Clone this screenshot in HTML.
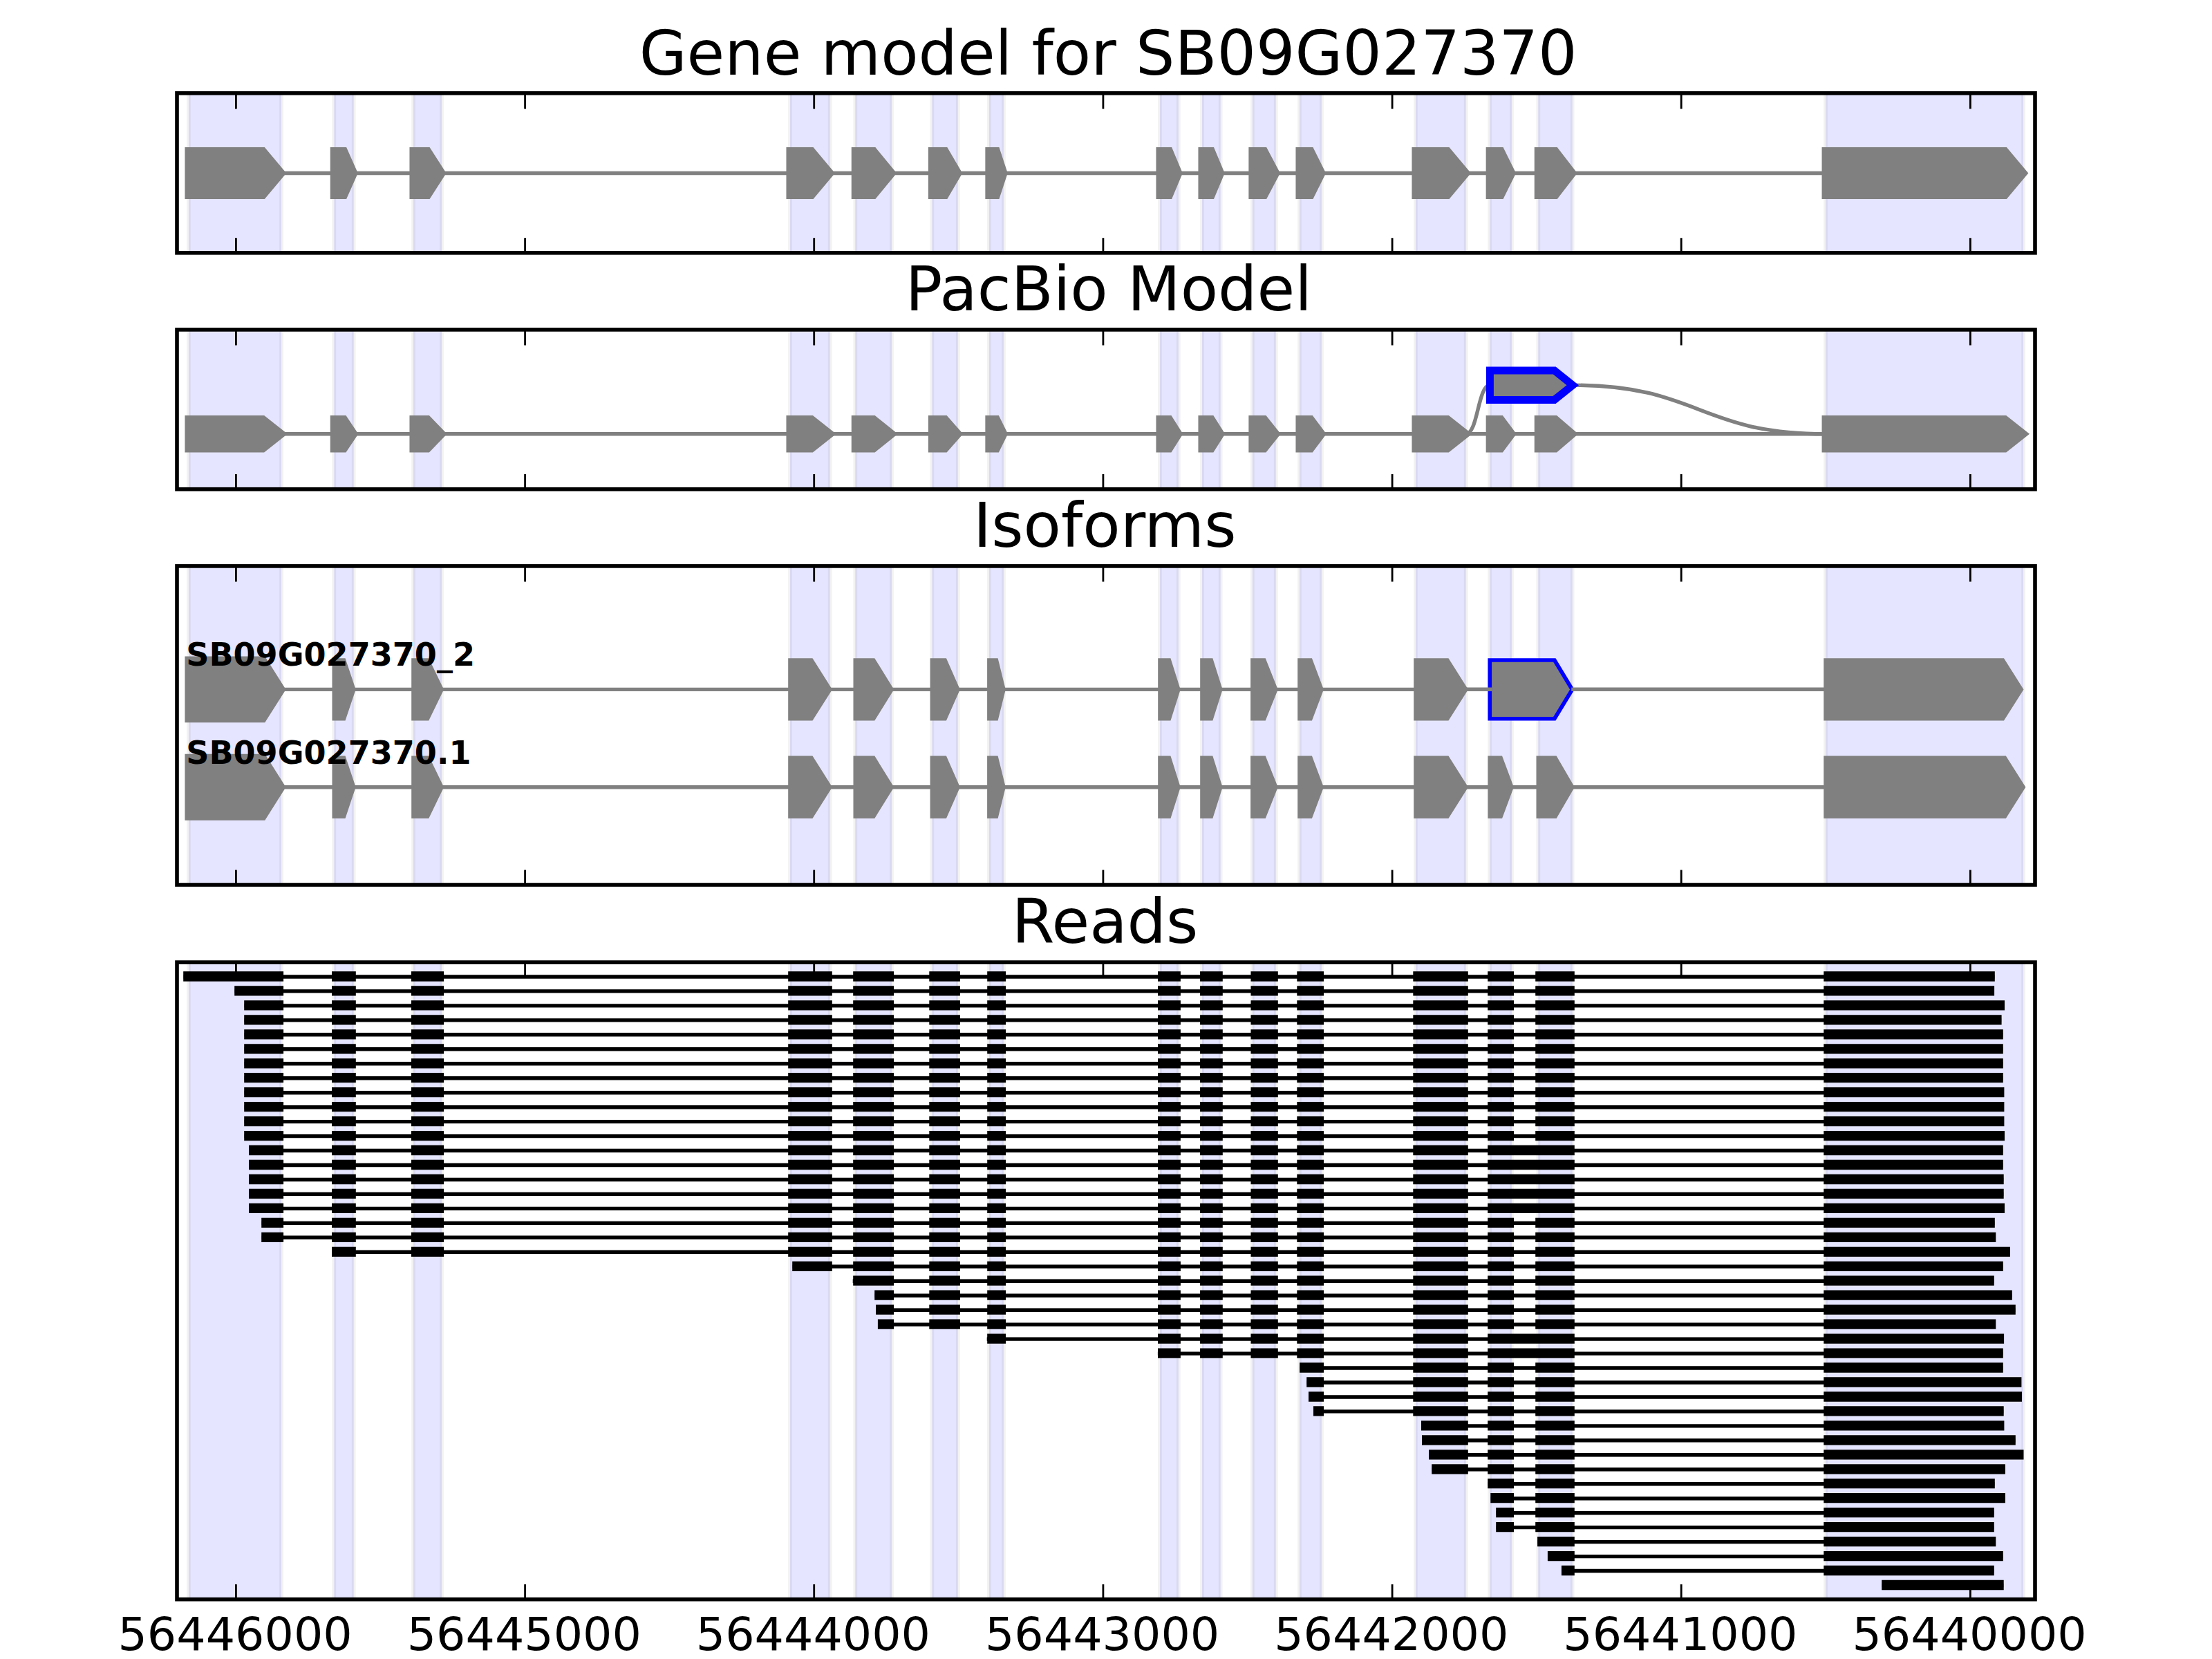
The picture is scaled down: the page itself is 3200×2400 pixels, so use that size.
<!DOCTYPE html>
<html lang="en"><head><meta charset="utf-8"><title>Gene model for SB09G027370</title>
<style>html,body{margin:0;padding:0;background:#fff}svg{display:block}</style></head>
<body>
<svg width="3200" height="2400" viewBox="0 0 3200 2400">
<rect width="3200" height="2400" fill="#fff"/>
<path d="M273 134.8H407V365.8H273ZM483.3 134.8H511.7V365.8H483.3ZM598 134.8H639V365.8H598ZM1143 134.8H1200.7V365.8H1143ZM1237.3 134.8H1290V365.8H1237.3ZM1348.4 134.8H1385.8V365.8H1348.4ZM1430.9 134.8H1451.9V365.8H1430.9ZM1678 134.8H1704.8V365.8H1678ZM1739 134.8H1765.7V365.8H1739ZM1811.9 134.8H1845.7V365.8H1811.9ZM1880 134.8H1911.9V365.8H1880ZM2048 134.8H2120.7V365.8H2048ZM2155.2 134.8H2186.9V365.8H2155.2ZM2225.3 134.8H2274.7V365.8H2225.3ZM2641.1 134.8H2927.1V365.8H2641.1Z" fill="#e5e5ff"/>
<path d="M270.1 134.8H275.9V365.8H270.1ZM404.1 134.8H409.9V365.8H404.1ZM480.4 134.8H486.2V365.8H480.4ZM508.8 134.8H514.6V365.8H508.8ZM595.1 134.8H600.9V365.8H595.1ZM636.1 134.8H641.9V365.8H636.1ZM1140.1 134.8H1145.9V365.8H1140.1ZM1197.8 134.8H1203.6V365.8H1197.8ZM1234.4 134.8H1240.2V365.8H1234.4ZM1287.1 134.8H1292.9V365.8H1287.1ZM1345.5 134.8H1351.3V365.8H1345.5ZM1382.9 134.8H1388.7V365.8H1382.9ZM1428 134.8H1433.8V365.8H1428ZM1449 134.8H1454.8V365.8H1449ZM1675.1 134.8H1680.9V365.8H1675.1ZM1701.9 134.8H1707.7V365.8H1701.9ZM1736.1 134.8H1741.9V365.8H1736.1ZM1762.8 134.8H1768.6V365.8H1762.8ZM1809 134.8H1814.8V365.8H1809ZM1842.8 134.8H1848.6V365.8H1842.8ZM1877.1 134.8H1882.9V365.8H1877.1ZM1909 134.8H1914.8V365.8H1909ZM2045.1 134.8H2050.9V365.8H2045.1ZM2117.8 134.8H2123.6V365.8H2117.8ZM2152.3 134.8H2158.1V365.8H2152.3ZM2184 134.8H2189.8V365.8H2184ZM2222.4 134.8H2228.2V365.8H2222.4ZM2271.8 134.8H2277.6V365.8H2271.8ZM2638.2 134.8H2644V365.8H2638.2ZM2924.2 134.8H2930V365.8H2924.2Z" fill="#000" fill-opacity="0.052"/>
<path d="M273 476.9H407V707.7H273ZM483.3 476.9H511.7V707.7H483.3ZM598 476.9H639V707.7H598ZM1143 476.9H1200.7V707.7H1143ZM1237.3 476.9H1290V707.7H1237.3ZM1348.4 476.9H1385.8V707.7H1348.4ZM1430.9 476.9H1451.9V707.7H1430.9ZM1678 476.9H1704.8V707.7H1678ZM1739 476.9H1765.7V707.7H1739ZM1811.9 476.9H1845.7V707.7H1811.9ZM1880 476.9H1911.9V707.7H1880ZM2048 476.9H2120.7V707.7H2048ZM2155.2 476.9H2186.9V707.7H2155.2ZM2225.3 476.9H2274.7V707.7H2225.3ZM2641.1 476.9H2927.1V707.7H2641.1Z" fill="#e5e5ff"/>
<path d="M270.1 476.9H275.9V707.7H270.1ZM404.1 476.9H409.9V707.7H404.1ZM480.4 476.9H486.2V707.7H480.4ZM508.8 476.9H514.6V707.7H508.8ZM595.1 476.9H600.9V707.7H595.1ZM636.1 476.9H641.9V707.7H636.1ZM1140.1 476.9H1145.9V707.7H1140.1ZM1197.8 476.9H1203.6V707.7H1197.8ZM1234.4 476.9H1240.2V707.7H1234.4ZM1287.1 476.9H1292.9V707.7H1287.1ZM1345.5 476.9H1351.3V707.7H1345.5ZM1382.9 476.9H1388.7V707.7H1382.9ZM1428 476.9H1433.8V707.7H1428ZM1449 476.9H1454.8V707.7H1449ZM1675.1 476.9H1680.9V707.7H1675.1ZM1701.9 476.9H1707.7V707.7H1701.9ZM1736.1 476.9H1741.9V707.7H1736.1ZM1762.8 476.9H1768.6V707.7H1762.8ZM1809 476.9H1814.8V707.7H1809ZM1842.8 476.9H1848.6V707.7H1842.8ZM1877.1 476.9H1882.9V707.7H1877.1ZM1909 476.9H1914.8V707.7H1909ZM2045.1 476.9H2050.9V707.7H2045.1ZM2117.8 476.9H2123.6V707.7H2117.8ZM2152.3 476.9H2158.1V707.7H2152.3ZM2184 476.9H2189.8V707.7H2184ZM2222.4 476.9H2228.2V707.7H2222.4ZM2271.8 476.9H2277.6V707.7H2271.8ZM2638.2 476.9H2644V707.7H2638.2ZM2924.2 476.9H2930V707.7H2924.2Z" fill="#000" fill-opacity="0.052"/>
<path d="M273 818.9H407V1280H273ZM483.3 818.9H511.7V1280H483.3ZM598 818.9H639V1280H598ZM1143 818.9H1200.7V1280H1143ZM1237.3 818.9H1290V1280H1237.3ZM1348.4 818.9H1385.8V1280H1348.4ZM1430.9 818.9H1451.9V1280H1430.9ZM1678 818.9H1704.8V1280H1678ZM1739 818.9H1765.7V1280H1739ZM1811.9 818.9H1845.7V1280H1811.9ZM1880 818.9H1911.9V1280H1880ZM2048 818.9H2120.7V1280H2048ZM2155.2 818.9H2186.9V1280H2155.2ZM2225.3 818.9H2274.7V1280H2225.3ZM2641.1 818.9H2927.1V1280H2641.1Z" fill="#e5e5ff"/>
<path d="M270.1 818.9H275.9V1280H270.1ZM404.1 818.9H409.9V1280H404.1ZM480.4 818.9H486.2V1280H480.4ZM508.8 818.9H514.6V1280H508.8ZM595.1 818.9H600.9V1280H595.1ZM636.1 818.9H641.9V1280H636.1ZM1140.1 818.9H1145.9V1280H1140.1ZM1197.8 818.9H1203.6V1280H1197.8ZM1234.4 818.9H1240.2V1280H1234.4ZM1287.1 818.9H1292.9V1280H1287.1ZM1345.5 818.9H1351.3V1280H1345.5ZM1382.9 818.9H1388.7V1280H1382.9ZM1428 818.9H1433.8V1280H1428ZM1449 818.9H1454.8V1280H1449ZM1675.1 818.9H1680.9V1280H1675.1ZM1701.9 818.9H1707.7V1280H1701.9ZM1736.1 818.9H1741.9V1280H1736.1ZM1762.8 818.9H1768.6V1280H1762.8ZM1809 818.9H1814.8V1280H1809ZM1842.8 818.9H1848.6V1280H1842.8ZM1877.1 818.9H1882.9V1280H1877.1ZM1909 818.9H1914.8V1280H1909ZM2045.1 818.9H2050.9V1280H2045.1ZM2117.8 818.9H2123.6V1280H2117.8ZM2152.3 818.9H2158.1V1280H2152.3ZM2184 818.9H2189.8V1280H2184ZM2222.4 818.9H2228.2V1280H2222.4ZM2271.8 818.9H2277.6V1280H2271.8ZM2638.2 818.9H2644V1280H2638.2ZM2924.2 818.9H2930V1280H2924.2Z" fill="#000" fill-opacity="0.052"/>
<path d="M273 1392.1H407V2313.7H273ZM483.3 1392.1H511.7V2313.7H483.3ZM598 1392.1H639V2313.7H598ZM1143 1392.1H1200.7V2313.7H1143ZM1237.3 1392.1H1290V2313.7H1237.3ZM1348.4 1392.1H1385.8V2313.7H1348.4ZM1430.9 1392.1H1451.9V2313.7H1430.9ZM1678 1392.1H1704.8V2313.7H1678ZM1739 1392.1H1765.7V2313.7H1739ZM1811.9 1392.1H1845.7V2313.7H1811.9ZM1880 1392.1H1911.9V2313.7H1880ZM2048 1392.1H2120.7V2313.7H2048ZM2155.2 1392.1H2186.9V2313.7H2155.2ZM2225.3 1392.1H2274.7V2313.7H2225.3ZM2641.1 1392.1H2927.1V2313.7H2641.1Z" fill="#e5e5ff"/>
<path d="M270.1 1392.1H275.9V2313.7H270.1ZM404.1 1392.1H409.9V2313.7H404.1ZM480.4 1392.1H486.2V2313.7H480.4ZM508.8 1392.1H514.6V2313.7H508.8ZM595.1 1392.1H600.9V2313.7H595.1ZM636.1 1392.1H641.9V2313.7H636.1ZM1140.1 1392.1H1145.9V2313.7H1140.1ZM1197.8 1392.1H1203.6V2313.7H1197.8ZM1234.4 1392.1H1240.2V2313.7H1234.4ZM1287.1 1392.1H1292.9V2313.7H1287.1ZM1345.5 1392.1H1351.3V2313.7H1345.5ZM1382.9 1392.1H1388.7V2313.7H1382.9ZM1428 1392.1H1433.8V2313.7H1428ZM1449 1392.1H1454.8V2313.7H1449ZM1675.1 1392.1H1680.9V2313.7H1675.1ZM1701.9 1392.1H1707.7V2313.7H1701.9ZM1736.1 1392.1H1741.9V2313.7H1736.1ZM1762.8 1392.1H1768.6V2313.7H1762.8ZM1809 1392.1H1814.8V2313.7H1809ZM1842.8 1392.1H1848.6V2313.7H1842.8ZM1877.1 1392.1H1882.9V2313.7H1877.1ZM1909 1392.1H1914.8V2313.7H1909ZM2045.1 1392.1H2050.9V2313.7H2045.1ZM2117.8 1392.1H2123.6V2313.7H2117.8ZM2152.3 1392.1H2158.1V2313.7H2152.3ZM2184 1392.1H2189.8V2313.7H2184ZM2222.4 1392.1H2228.2V2313.7H2222.4ZM2271.8 1392.1H2277.6V2313.7H2271.8ZM2638.2 1392.1H2644V2313.7H2638.2ZM2924.2 1392.1H2930V2313.7H2924.2Z" fill="#000" fill-opacity="0.052"/>
<g fill="#808080" stroke="#808080" stroke-linejoin="miter" stroke-miterlimit="10">
<path d="M407 250.5H2641.1" stroke-width="5.4" fill="none"/>
<path d="M273 218.6H380.2L407 250.5L380.2 282.4H273Z" stroke-width="11.1" />
<path d="M483.3 218.6H497.5L511.7 250.5L497.5 282.4H483.3Z" stroke-width="11.1" />
<path d="M598 218.6H618.5L639 250.5L618.5 282.4H598Z" stroke-width="11.1" />
<path d="M1143 218.6H1173.9L1200.7 250.5L1173.9 282.4H1143Z" stroke-width="11.1" />
<path d="M1237.3 218.6H1263.7L1290 250.5L1263.7 282.4H1237.3Z" stroke-width="11.1" />
<path d="M1348.4 218.6H1367.1L1385.8 250.5L1367.1 282.4H1348.4Z" stroke-width="11.1" />
<path d="M1430.9 218.6H1441.4L1451.9 250.5L1441.4 282.4H1430.9Z" stroke-width="11.1" />
<path d="M1678 218.6H1691.4L1704.8 250.5L1691.4 282.4H1678Z" stroke-width="11.1" />
<path d="M1739 218.6H1752.3L1765.7 250.5L1752.3 282.4H1739Z" stroke-width="11.1" />
<path d="M1811.9 218.6H1828.8L1845.7 250.5L1828.8 282.4H1811.9Z" stroke-width="11.1" />
<path d="M1880 218.6H1896L1911.9 250.5L1896 282.4H1880Z" stroke-width="11.1" />
<path d="M2048 218.6H2093.9L2120.7 250.5L2093.9 282.4H2048Z" stroke-width="11.1" />
<path d="M2155.2 218.6H2171.1L2186.9 250.5L2171.1 282.4H2155.2Z" stroke-width="11.1" />
<path d="M2225.3 218.6H2250L2274.7 250.5L2250 282.4H2225.3Z" stroke-width="11.1" />
<path d="M2641.1 218.6H2900.3L2927.1 250.5L2900.3 282.4H2641.1Z" stroke-width="11.1" />
</g>
<g fill="#808080" stroke="#808080" stroke-linejoin="miter" stroke-miterlimit="10">
<path d="M407 627.8H2641.1" stroke-width="5.4" fill="none"/>
<path d="M273 606.6H380.2L407 627.8L380.2 648.9H273Z" stroke-width="11.1" />
<path d="M483.3 606.6H497.5L511.7 627.8L497.5 648.9H483.3Z" stroke-width="11.1" />
<path d="M598 606.6H618.5L639 627.8L618.5 648.9H598Z" stroke-width="11.1" />
<path d="M1143 606.6H1173.9L1200.7 627.8L1173.9 648.9H1143Z" stroke-width="11.1" />
<path d="M1237.3 606.6H1263.7L1290 627.8L1263.7 648.9H1237.3Z" stroke-width="11.1" />
<path d="M1348.4 606.6H1367.1L1385.8 627.8L1367.1 648.9H1348.4Z" stroke-width="11.1" />
<path d="M1430.9 606.6H1441.4L1451.9 627.8L1441.4 648.9H1430.9Z" stroke-width="11.1" />
<path d="M1678 606.6H1691.4L1704.8 627.8L1691.4 648.9H1678Z" stroke-width="11.1" />
<path d="M1739 606.6H1752.3L1765.7 627.8L1752.3 648.9H1739Z" stroke-width="11.1" />
<path d="M1811.9 606.6H1828.8L1845.7 627.8L1828.8 648.9H1811.9Z" stroke-width="11.1" />
<path d="M1880 606.6H1896L1911.9 627.8L1896 648.9H1880Z" stroke-width="11.1" />
<path d="M2048 606.6H2093.9L2120.7 627.8L2093.9 648.9H2048Z" stroke-width="11.1" />
<path d="M2155.2 606.6H2171.1L2186.9 627.8L2171.1 648.9H2155.2Z" stroke-width="11.1" />
<path d="M2225.3 606.6H2250L2274.7 627.8L2250 648.9H2225.3Z" stroke-width="11.1" />
<path d="M2641.1 606.6H2900.3L2927.1 627.8L2900.3 648.9H2641.1Z" stroke-width="11.1" />
<path d="M2120.7 627.8 C2138 627.8 2138 557.2 2155.4 557.2" fill="none" stroke-width="5.4"/>
<path d="M2274.7 557.2 C2457.9 557.2 2457.9 627.8 2641.1 627.8" fill="none" stroke-width="5.4"/>
</g>
<path d="M2155.4 536H2248.7L2275.2 557.2 L2248.7 578.4H2155.4Z" fill="#808080" stroke="#0000ff" stroke-width="11" stroke-miterlimit="10"/>
<g fill="#808080" stroke="#808080" stroke-linejoin="miter" stroke-miterlimit="10">
<path d="M407 997.4H2122.7" stroke-width="5.4" fill="none"/>
<path d="M273 955H380.2L407 997.4L380.2 1039.8H273Z" stroke-width="11.1" />
<path d="M483.3 955H497.5L511.7 997.4L497.5 1039.8H483.3Z" stroke-width="5.6" />
<path d="M598 955H618.5L639 997.4L618.5 1039.8H598Z" stroke-width="5.6" />
<path d="M1143 955H1173.9L1200.7 997.4L1173.9 1039.8H1143Z" stroke-width="5.6" />
<path d="M1237.3 955H1263.7L1290 997.4L1263.7 1039.8H1237.3Z" stroke-width="5.6" />
<path d="M1348.4 955H1367.1L1385.8 997.4L1367.1 1039.8H1348.4Z" stroke-width="5.6" />
<path d="M1430.9 955H1441.4L1451.9 997.4L1441.4 1039.8H1430.9Z" stroke-width="5.6" />
<path d="M1678 955H1691.4L1704.8 997.4L1691.4 1039.8H1678Z" stroke-width="5.6" />
<path d="M1739 955H1752.3L1765.7 997.4L1752.3 1039.8H1739Z" stroke-width="5.6" />
<path d="M1811.9 955H1828.8L1845.7 997.4L1828.8 1039.8H1811.9Z" stroke-width="5.6" />
<path d="M1880 955H1896L1911.9 997.4L1896 1039.8H1880Z" stroke-width="5.6" />
<path d="M2048 955H2093.9L2120.7 997.4L2093.9 1039.8H2048Z" stroke-width="5.6" />
<path d="M2641.1 955H2897.4L2924.2 997.4L2897.4 1039.8H2641.1Z" stroke-width="5.6" />
</g>
<path d="M2155.25 955H2248.85L2274.5 997.4 L2248.85 1039.75H2155.25Z" fill="#808080" stroke="#0000ff" stroke-width="5.7" stroke-miterlimit="10"/>
<path d="M2120.7 997.2H2158.1M2273.3 997.2H2641.1" stroke="#808080" stroke-width="5.5" fill="none"/>
<g fill="#808080" stroke="#808080" stroke-linejoin="miter" stroke-miterlimit="10">
<path d="M407 1138.7H2641.1" stroke-width="5.4" fill="none"/>
<path d="M273 1096.3H380.2L407 1138.7L380.2 1181.1H273Z" stroke-width="11.1" />
<path d="M483.3 1096.3H497.5L511.7 1138.7L497.5 1181.1H483.3Z" stroke-width="5.6" />
<path d="M598 1096.3H618.5L639 1138.7L618.5 1181.1H598Z" stroke-width="5.6" />
<path d="M1143 1096.3H1173.9L1200.7 1138.7L1173.9 1181.1H1143Z" stroke-width="5.6" />
<path d="M1237.3 1096.3H1263.7L1290 1138.7L1263.7 1181.1H1237.3Z" stroke-width="5.6" />
<path d="M1348.4 1096.3H1367.1L1385.8 1138.7L1367.1 1181.1H1348.4Z" stroke-width="5.6" />
<path d="M1430.9 1096.3H1441.4L1451.9 1138.7L1441.4 1181.1H1430.9Z" stroke-width="5.6" />
<path d="M1678 1096.3H1691.4L1704.8 1138.7L1691.4 1181.1H1678Z" stroke-width="5.6" />
<path d="M1739 1096.3H1752.3L1765.7 1138.7L1752.3 1181.1H1739Z" stroke-width="5.6" />
<path d="M1811.9 1096.3H1828.8L1845.7 1138.7L1828.8 1181.1H1811.9Z" stroke-width="5.6" />
<path d="M1880 1096.3H1896L1911.9 1138.7L1896 1181.1H1880Z" stroke-width="5.6" />
<path d="M2048 1096.3H2093.9L2120.7 1138.7L2093.9 1181.1H2048Z" stroke-width="5.6" />
<path d="M2155.2 1096.3H2171.1L2186.9 1138.7L2171.1 1181.1H2155.2Z" stroke-width="5.6" />
<path d="M2225.3 1096.3H2250L2274.7 1138.7L2250 1181.1H2225.3Z" stroke-width="5.6" />
<path d="M2641.1 1096.3H2900.3L2927.1 1138.7L2900.3 1181.1H2641.1Z" stroke-width="5.6" />
</g>
<g font-family='"DejaVu Sans","Liberation Sans",sans-serif' font-weight="bold" font-size="46.1" fill="#000">
<text x="269.2" y="963.2">SB09G027370_2</text>
<text x="269.2" y="1105.0">SB09G027370.1</text>
</g>
<path d="M265.7 1413H2885.3M339.7 1433.9H2884.6M353.7 1454.9H2899.5M353.7 1475.9H2895.1M353.7 1496.8H2897.3M353.7 1517.8H2897.3M353.7 1538.8H2897.3M353.7 1559.7H2897.3M353.7 1580.7H2898.9M353.7 1601.7H2898.9M353.7 1622.6H2898.9M353.7 1643.6H2899.5M360.6 1664.5H2897.3M360.6 1685.5H2897.3M360.6 1706.5H2898.2M360.6 1727.4H2898.2M360.6 1748.4H2899.5M378.7 1769.4H2885.3M378.7 1790.3H2886.8M480.5 1811.3H2907.4M1146.7 1832.3H2897.3M1233.7 1853.2H2884.3M1265.7 1874.2H2910.3M1267.6 1895.2H2915.3M1270.4 1916.1H2886.8M1427.7 1937.1H2898.6M1674.9 1958.1H2897.3M1880.6 1979H2897.3M1890.7 2000H2923.9M1893.5 2021H2924.5M1900.5 2041.9H2898.2M2056.5 2062.9H2898.9M2057.5 2083.8H2915.3M2067.6 2104.8H2927M2071.7 2125.8H2900.4M2152.7 2146.7H2885.3M2156.8 2167.7H2900.4M2164.7 2188.7H2884.3M2164.7 2209.6H2884.3M2224.6 2230.6H2886.8M2239.4 2251.6H2897.3M2259.4 2272.5H2884.3M2722.7 2293.5H2898.2" stroke="#000" stroke-width="5.4" fill="none"/>
<path d="M265.2 1412.5H410.1M480 1412.5H514.8M594.9 1412.5H642.1M1140.2 1412.5H1203.8M1234.2 1412.5H1293.1M1344.3 1412.5H1388.9M1428.2 1412.5H1455M1675 1412.5H1707.9M1736.1 1412.5H1768.8M1809.5 1412.5H1848.8M1876.3 1412.5H1915M2044.3 1412.5H2123.8M2152.2 1412.5H2190M2221.2 1412.5H2277.8M2638.3 1412.5H2885.8M339.2 1433.4H410.1M480 1433.4H514.8M594.9 1433.4H642.1M1140.2 1433.4H1203.8M1234.2 1433.4H1293.1M1344.3 1433.4H1388.9M1428.2 1433.4H1455M1675 1433.4H1707.9M1736.1 1433.4H1768.8M1809.5 1433.4H1848.8M1876.3 1433.4H1915M2044.3 1433.4H2123.8M2152.2 1433.4H2190M2221.2 1433.4H2277.8M2638.3 1433.4H2885.1M353.2 1454.4H410.1M480 1454.4H514.8M594.9 1454.4H642.1M1140.2 1454.4H1203.8M1234.2 1454.4H1293.1M1344.3 1454.4H1388.9M1428.2 1454.4H1455M1675 1454.4H1707.9M1736.1 1454.4H1768.8M1809.5 1454.4H1848.8M1876.3 1454.4H1915M2044.3 1454.4H2123.8M2152.2 1454.4H2190M2221.2 1454.4H2277.8M2638.3 1454.4H2900M353.2 1475.4H410.1M480 1475.4H514.8M594.9 1475.4H642.1M1140.2 1475.4H1203.8M1234.2 1475.4H1293.1M1344.3 1475.4H1388.9M1428.2 1475.4H1455M1675 1475.4H1707.9M1736.1 1475.4H1768.8M1809.5 1475.4H1848.8M1876.3 1475.4H1915M2044.3 1475.4H2123.8M2152.2 1475.4H2190M2221.2 1475.4H2277.8M2638.3 1475.4H2895.6M353.2 1496.3H410.1M480 1496.3H514.8M594.9 1496.3H642.1M1140.2 1496.3H1203.8M1234.2 1496.3H1293.1M1344.3 1496.3H1388.9M1428.2 1496.3H1455M1675 1496.3H1707.9M1736.1 1496.3H1768.8M1809.5 1496.3H1848.8M1876.3 1496.3H1915M2044.3 1496.3H2123.8M2152.2 1496.3H2190M2221.2 1496.3H2277.8M2638.3 1496.3H2897.8M353.2 1517.3H410.1M480 1517.3H514.8M594.9 1517.3H642.1M1140.2 1517.3H1203.8M1234.2 1517.3H1293.1M1344.3 1517.3H1388.9M1428.2 1517.3H1455M1675 1517.3H1707.9M1736.1 1517.3H1768.8M1809.5 1517.3H1848.8M1876.3 1517.3H1915M2044.3 1517.3H2123.8M2152.2 1517.3H2190M2221.2 1517.3H2277.8M2638.3 1517.3H2897.8M353.2 1538.3H410.1M480 1538.3H514.8M594.9 1538.3H642.1M1140.2 1538.3H1203.8M1234.2 1538.3H1293.1M1344.3 1538.3H1388.9M1428.2 1538.3H1455M1675 1538.3H1707.9M1736.1 1538.3H1768.8M1809.5 1538.3H1848.8M1876.3 1538.3H1915M2044.3 1538.3H2123.8M2152.2 1538.3H2190M2221.2 1538.3H2277.8M2638.3 1538.3H2897.8M353.2 1559.2H410.1M480 1559.2H514.8M594.9 1559.2H642.1M1140.2 1559.2H1203.8M1234.2 1559.2H1293.1M1344.3 1559.2H1388.9M1428.2 1559.2H1455M1675 1559.2H1707.9M1736.1 1559.2H1768.8M1809.5 1559.2H1848.8M1876.3 1559.2H1915M2044.3 1559.2H2123.8M2152.2 1559.2H2190M2221.2 1559.2H2277.8M2638.3 1559.2H2897.8M353.2 1580.2H410.1M480 1580.2H514.8M594.9 1580.2H642.1M1140.2 1580.2H1203.8M1234.2 1580.2H1293.1M1344.3 1580.2H1388.9M1428.2 1580.2H1455M1675 1580.2H1707.9M1736.1 1580.2H1768.8M1809.5 1580.2H1848.8M1876.3 1580.2H1915M2044.3 1580.2H2123.8M2152.2 1580.2H2190M2221.2 1580.2H2277.8M2638.3 1580.2H2899.4M353.2 1601.2H410.1M480 1601.2H514.8M594.9 1601.2H642.1M1140.2 1601.2H1203.8M1234.2 1601.2H1293.1M1344.3 1601.2H1388.9M1428.2 1601.2H1455M1675 1601.2H1707.9M1736.1 1601.2H1768.8M1809.5 1601.2H1848.8M1876.3 1601.2H1915M2044.3 1601.2H2123.8M2152.2 1601.2H2190M2221.2 1601.2H2277.8M2638.3 1601.2H2899.4M353.2 1622.1H410.1M480 1622.1H514.8M594.9 1622.1H642.1M1140.2 1622.1H1203.8M1234.2 1622.1H1293.1M1344.3 1622.1H1388.9M1428.2 1622.1H1455M1675 1622.1H1707.9M1736.1 1622.1H1768.8M1809.5 1622.1H1848.8M1876.3 1622.1H1915M2044.3 1622.1H2123.8M2152.2 1622.1H2190M2221.2 1622.1H2277.8M2638.3 1622.1H2899.4M353.2 1643.1H410.1M480 1643.1H514.8M594.9 1643.1H642.1M1140.2 1643.1H1203.8M1234.2 1643.1H1293.1M1344.3 1643.1H1388.9M1428.2 1643.1H1455M1675 1643.1H1707.9M1736.1 1643.1H1768.8M1809.5 1643.1H1848.8M1876.3 1643.1H1915M2044.3 1643.1H2123.8M2152.2 1643.1H2190M2221.2 1643.1H2277.8M2638.3 1643.1H2900M360.1 1664H410.1M480 1664H514.8M594.9 1664H642.1M1140.2 1664H1203.8M1234.2 1664H1293.1M1344.3 1664H1388.9M1428.2 1664H1455M1675 1664H1707.9M1736.1 1664H1768.8M1809.5 1664H1848.8M1876.3 1664H1915M2044.3 1664H2123.8M2152.2 1664H2277.8M2638.3 1664H2897.8M360.1 1685H410.1M480 1685H514.8M594.9 1685H642.1M1140.2 1685H1203.8M1234.2 1685H1293.1M1344.3 1685H1388.9M1428.2 1685H1455M1675 1685H1707.9M1736.1 1685H1768.8M1809.5 1685H1848.8M1876.3 1685H1915M2044.3 1685H2123.8M2152.2 1685H2277.8M2638.3 1685H2897.8M360.1 1706H410.1M480 1706H514.8M594.9 1706H642.1M1140.2 1706H1203.8M1234.2 1706H1293.1M1344.3 1706H1388.9M1428.2 1706H1455M1675 1706H1707.9M1736.1 1706H1768.8M1809.5 1706H1848.8M1876.3 1706H1915M2044.3 1706H2123.8M2152.2 1706H2277.8M2638.3 1706H2898.7M360.1 1726.9H410.1M480 1726.9H514.8M594.9 1726.9H642.1M1140.2 1726.9H1203.8M1234.2 1726.9H1293.1M1344.3 1726.9H1388.9M1428.2 1726.9H1455M1675 1726.9H1707.9M1736.1 1726.9H1768.8M1809.5 1726.9H1848.8M1876.3 1726.9H1915M2044.3 1726.9H2123.8M2152.2 1726.9H2277.8M2638.3 1726.9H2898.7M360.1 1747.9H410.1M480 1747.9H514.8M594.9 1747.9H642.1M1140.2 1747.9H1203.8M1234.2 1747.9H1293.1M1344.3 1747.9H1388.9M1428.2 1747.9H1455M1675 1747.9H1707.9M1736.1 1747.9H1768.8M1809.5 1747.9H1848.8M1876.3 1747.9H1915M2044.3 1747.9H2123.8M2152.2 1747.9H2277.8M2638.3 1747.9H2900M378.2 1768.9H410.1M480 1768.9H514.8M594.9 1768.9H642.1M1140.2 1768.9H1203.8M1234.2 1768.9H1293.1M1344.3 1768.9H1388.9M1428.2 1768.9H1455M1675 1768.9H1707.9M1736.1 1768.9H1768.8M1809.5 1768.9H1848.8M1876.3 1768.9H1915M2044.3 1768.9H2123.8M2152.2 1768.9H2190M2221.2 1768.9H2277.8M2638.3 1768.9H2885.8M378.2 1789.8H410.1M480 1789.8H514.8M594.9 1789.8H642.1M1140.2 1789.8H1203.8M1234.2 1789.8H1293.1M1344.3 1789.8H1388.9M1428.2 1789.8H1455M1675 1789.8H1707.9M1736.1 1789.8H1768.8M1809.5 1789.8H1848.8M1876.3 1789.8H1915M2044.3 1789.8H2123.8M2152.2 1789.8H2190M2221.2 1789.8H2277.8M2638.3 1789.8H2887.3M480 1810.8H514.8M594.9 1810.8H642.1M1140.2 1810.8H1203.8M1234.2 1810.8H1293.1M1344.3 1810.8H1388.9M1428.2 1810.8H1455M1675 1810.8H1707.9M1736.1 1810.8H1768.8M1809.5 1810.8H1848.8M1876.3 1810.8H1915M2044.3 1810.8H2123.8M2152.2 1810.8H2190M2221.2 1810.8H2277.8M2638.3 1810.8H2907.9M1146.2 1831.8H1203.8M1234.2 1831.8H1293.1M1344.3 1831.8H1388.9M1428.2 1831.8H1455M1675 1831.8H1707.9M1736.1 1831.8H1768.8M1809.5 1831.8H1848.8M1876.3 1831.8H1915M2044.3 1831.8H2123.8M2152.2 1831.8H2190M2221.2 1831.8H2277.8M2638.3 1831.8H2897.8M1234.2 1852.7H1293.1M1344.3 1852.7H1388.9M1428.2 1852.7H1455M1675 1852.7H1707.9M1736.1 1852.7H1768.8M1809.5 1852.7H1848.8M1876.3 1852.7H1915M2044.3 1852.7H2123.8M2152.2 1852.7H2190M2221.2 1852.7H2277.8M2638.3 1852.7H2884.8M1265.2 1873.7H1293.1M1344.3 1873.7H1388.9M1428.2 1873.7H1455M1675 1873.7H1707.9M1736.1 1873.7H1768.8M1809.5 1873.7H1848.8M1876.3 1873.7H1915M2044.3 1873.7H2123.8M2152.2 1873.7H2190M2221.2 1873.7H2277.8M2638.3 1873.7H2910.8M1267.1 1894.7H1293.1M1344.3 1894.7H1388.9M1428.2 1894.7H1455M1675 1894.7H1707.9M1736.1 1894.7H1768.8M1809.5 1894.7H1848.8M1876.3 1894.7H1915M2044.3 1894.7H2123.8M2152.2 1894.7H2190M2221.2 1894.7H2277.8M2638.3 1894.7H2915.8M1269.9 1915.6H1293.1M1344.3 1915.6H1388.9M1428.2 1915.6H1455M1675 1915.6H1707.9M1736.1 1915.6H1768.8M1809.5 1915.6H1848.8M1876.3 1915.6H1915M2044.3 1915.6H2123.8M2152.2 1915.6H2190M2221.2 1915.6H2277.8M2638.3 1915.6H2887.3M1428.2 1936.6H1455M1675 1936.6H1707.9M1736.1 1936.6H1768.8M1809.5 1936.6H1848.8M1876.3 1936.6H1915M2044.3 1936.6H2123.8M2152.2 1936.6H2277.8M2638.3 1936.6H2899.1M1675 1957.6H1707.9M1736.1 1957.6H1768.8M1809.5 1957.6H1848.8M1876.3 1957.6H1915M2044.3 1957.6H2123.8M2152.2 1957.6H2277.8M2638.3 1957.6H2897.8M1880.1 1978.5H1915M2044.3 1978.5H2123.8M2152.2 1978.5H2190M2221.2 1978.5H2277.8M2638.3 1978.5H2897.8M1890.2 1999.5H1915M2044.3 1999.5H2123.8M2152.2 1999.5H2190M2221.2 1999.5H2277.8M2638.3 1999.5H2924.4M1893 2020.5H1915M2044.3 2020.5H2123.8M2152.2 2020.5H2190M2221.2 2020.5H2277.8M2638.3 2020.5H2925M1900 2041.4H1915M2044.3 2041.4H2123.8M2152.2 2041.4H2190M2221.2 2041.4H2277.8M2638.3 2041.4H2898.7M2056 2062.4H2123.8M2152.2 2062.4H2190M2221.2 2062.4H2277.8M2638.3 2062.4H2899.4M2057 2083.3H2123.8M2152.2 2083.3H2190M2221.2 2083.3H2277.8M2638.3 2083.3H2915.8M2067.1 2104.3H2123.8M2152.2 2104.3H2190M2221.2 2104.3H2277.8M2638.3 2104.3H2927.5M2071.2 2125.3H2123.8M2152.2 2125.3H2190M2221.2 2125.3H2277.8M2638.3 2125.3H2900.9M2152.2 2146.2H2190M2221.2 2146.2H2277.8M2638.3 2146.2H2885.8M2156.3 2167.2H2190M2221.2 2167.2H2277.8M2638.3 2167.2H2900.9M2164.2 2188.2H2190M2221.2 2188.2H2277.8M2638.3 2188.2H2884.8M2164.2 2209.1H2190M2221.2 2209.1H2277.8M2638.3 2209.1H2884.8M2224.1 2230.1H2277.8M2638.3 2230.1H2887.3M2238.9 2251.1H2277.8M2638.3 2251.1H2897.8M2258.9 2272H2277.8M2638.3 2272H2884.8M2722.2 2293H2898.7" stroke="#000" stroke-width="14.3" fill="none"/>
<path d="M341.4 134.8v22.7M341.4 365.8v-21.6M759.6 134.8v22.7M759.6 365.8v-21.6M1177.7 134.8v22.7M1177.7 365.8v-21.6M1595.9 134.8v22.7M1595.9 365.8v-21.6M2014.1 134.8v22.7M2014.1 365.8v-21.6M2432.2 134.8v22.7M2432.2 365.8v-21.6M2850.4 134.8v22.7M2850.4 365.8v-21.6M341.4 476.9v22.7M341.4 707.7v-21.6M759.6 476.9v22.7M759.6 707.7v-21.6M1177.7 476.9v22.7M1177.7 707.7v-21.6M1595.9 476.9v22.7M1595.9 707.7v-21.6M2014.1 476.9v22.7M2014.1 707.7v-21.6M2432.2 476.9v22.7M2432.2 707.7v-21.6M2850.4 476.9v22.7M2850.4 707.7v-21.6M341.4 818.9v22.7M341.4 1280v-21.6M759.6 818.9v22.7M759.6 1280v-21.6M1177.7 818.9v22.7M1177.7 1280v-21.6M1595.9 818.9v22.7M1595.9 1280v-21.6M2014.1 818.9v22.7M2014.1 1280v-21.6M2432.2 818.9v22.7M2432.2 1280v-21.6M2850.4 818.9v22.7M2850.4 1280v-21.6M341.4 1392.1v22.7M341.4 2313.7v-21.6M759.6 1392.1v22.7M759.6 2313.7v-21.6M1177.7 1392.1v22.7M1177.7 2313.7v-21.6M1595.9 1392.1v22.7M1595.9 2313.7v-21.6M2014.1 1392.1v22.7M2014.1 2313.7v-21.6M2432.2 1392.1v22.7M2432.2 2313.7v-21.6M2850.4 1392.1v22.7M2850.4 2313.7v-21.6" stroke="#000" stroke-width="2.8" fill="none"/>
<rect x="256" y="134.8" width="2688" height="231" fill="none" stroke="#000" stroke-width="5.6"/>
<rect x="256" y="476.9" width="2688" height="230.8" fill="none" stroke="#000" stroke-width="5.6"/>
<rect x="256" y="818.9" width="2688" height="461.1" fill="none" stroke="#000" stroke-width="5.6"/>
<rect x="256" y="1392.1" width="2688" height="921.6" fill="none" stroke="#000" stroke-width="5.6"/>
<g font-family='"DejaVu Sans","Liberation Sans",sans-serif' font-size="88.89" fill="#000" text-anchor="middle">
<text x="1603.2" y="108.2">Gene model for SB09G027370</text>
<text x="1603.8" y="449.4">PacBio Model</text>
<text x="1598.3" y="791.1">Isoforms</text>
<text x="1598.5" y="1363.8">Reads</text>
</g>
<g font-family='"DejaVu Sans","Liberation Sans",sans-serif' font-size="66.67" fill="#000" text-anchor="middle">
<text x="340.1" y="2387.0">56446000</text>
<text x="758.3" y="2387.0">56445000</text>
<text x="1176.4" y="2387.0">56444000</text>
<text x="1594.6" y="2387.0">56443000</text>
<text x="2012.8" y="2387.0">56442000</text>
<text x="2430.9" y="2387.0">56441000</text>
<text x="2849.1" y="2387.0">56440000</text>
</g>
</svg>
</body></html>
